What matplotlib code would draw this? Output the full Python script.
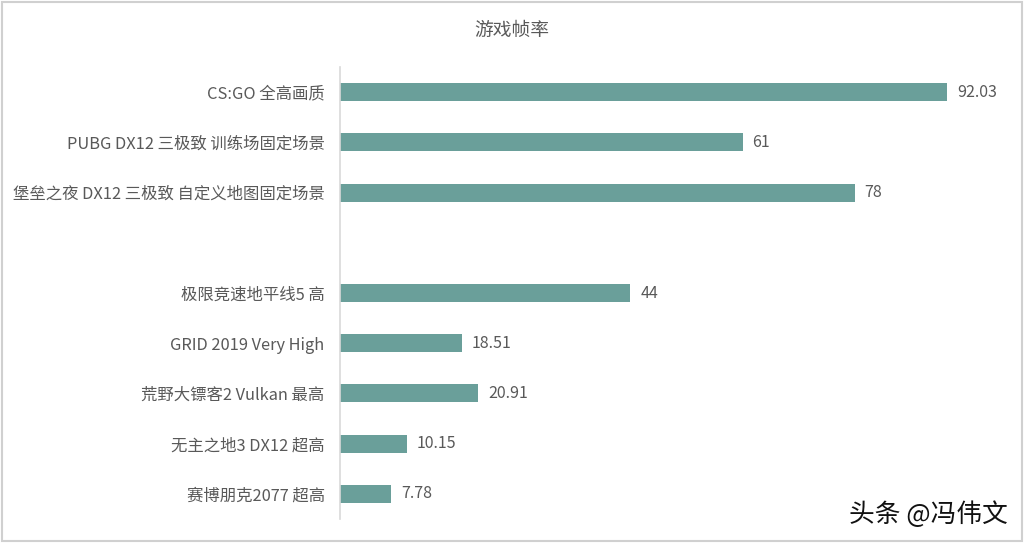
import matplotlib
matplotlib.use("Agg")
import matplotlib.pyplot as plt
from matplotlib.patches import Rectangle

plt.rcParams['font.family'] = ['Noto Sans CJK SC', 'DejaVu Sans']

categories = ["CS:GO 全高画质", "PUBG DX12 三极致 训练场固定场景", "堡垒之夜 DX12 三极致 自定义地图固定场景",
              "", "极限竞速地平线5 高", "GRID 2019 Very High", "荒野大镖客2 Vulkan 最高",
              "无主之地3 DX12 超高", "赛博朋克2077 超高"]
values = [92.03, 61, 78, None, 44, 18.51, 20.91, 10.15, 7.78]
value_labels = ["92.03", "61", "78", "", "44", "18.51", "20.91", "10.15", "7.78"]

fig = plt.figure(figsize=(10.24, 5.43), dpi=100)
ax = fig.add_axes([340/1024, 1-519/543, 660/1024, 452/543])

ys = list(range(len(categories)))
bar_y = [y for y, v in zip(ys, values) if v is not None]
bar_v = [v for v in values if v is not None]
ax.barh(bar_y, bar_v, height=0.36, color="#6A9F9A")
for y, v, lab in zip(ys, values, value_labels):
    if v is not None:
        ax.text(v + 1.5, y, lab, va="center", ha="left", fontsize=11.5, color="#595959")

ax.set_ylim(len(categories) - 0.5, -0.5)
ax.set_xlim(0, 100)
ax.set_yticks(ys)
ax.set_yticklabels(categories, fontsize=11.8, color="#595959")
ax.tick_params(axis='y', length=0, pad=11)
ax.set_xticks([])
for s in ["top", "right", "bottom"]:
    ax.spines[s].set_visible(False)
ax.spines["left"].set_color("#D9D9D9")
ax.spines["left"].set_linewidth(1.2)

fig.text(0.5, 1-30/543, "游戏帧率", ha="center", va="center", fontsize=13.5, color="#595959")
fig.text(1008/1024, 1-515/543, "头条 @冯伟文", ha="right", va="center", fontsize=18.5, color="#111111")

fig.patches.append(Rectangle((0.002, 0.003), 0.996, 0.994, transform=fig.transFigure,
                             fill=False, edgecolor="#D0D0D0", linewidth=1.5))

fig.savefig("out.png", dpi=100)
